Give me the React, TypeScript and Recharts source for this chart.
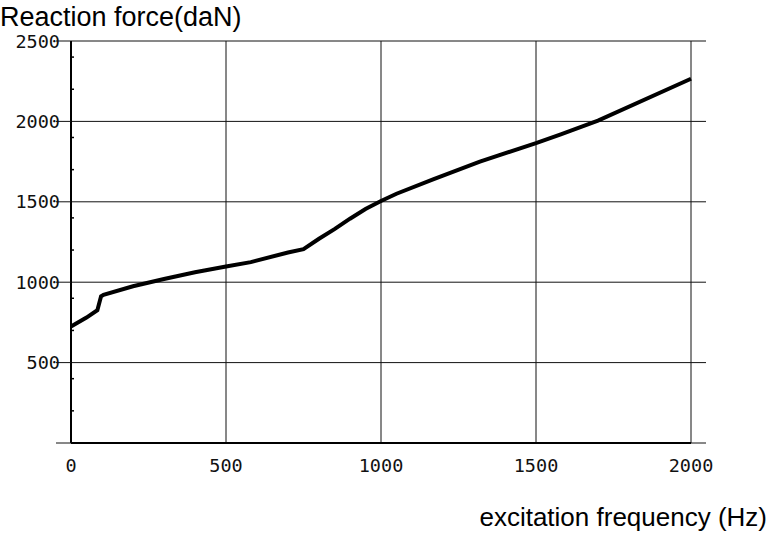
import React from 'react';
import { LineChart, Line, XAxis, YAxis, CartesianGrid } from 'recharts';

const frequencies = [0, 50, 85, 97, 105, 200, 300, 400, 500, 580, 700, 750, 800, 850, 900, 950, 1000, 1050, 1168, 1319, 1500, 1580, 1700, 2000];
const forces = [725, 780, 826, 912, 922, 975, 1020, 1062, 1098, 1125, 1185, 1205, 1270, 1330, 1395, 1455, 1505, 1550, 1640, 1750, 1865, 1920, 2005, 2265];
const xTicks = [0, 500, 1000, 1500, 2000];
const yTicks = [0, 500, 1000, 1500, 2000, 2500];
const yMinorTicks = [100, 200, 300, 400, 600, 700, 800, 900, 1100, 1200, 1300, 1400, 1600, 1700, 1800, 1900, 2100, 2200, 2300, 2400];
const yTitle = 'Reaction force(daN)';
const xTitle = 'excitation frequency (Hz)';

const data = frequencies.map((f, i) => ({ freq: f, force: forces[i] }));

const tickFont = { fontFamily: 'DejaVu Sans Mono', fontSize: 18.5, fill: '#111' };
const EmptyTick = () => <g />;

export default function App() {
  return (
    <div style={{ position: 'absolute', left: 0, top: 0, width: 773, height: 541, background: '#fff' }}>
      <LineChart width={773} height={541} data={data} margin={{ top: 41, right: 67, bottom: 58, left: 0 }}>
        <CartesianGrid stroke="#111" strokeWidth={1} />
        <XAxis
          dataKey="freq"
          type="number"
          domain={[0, 2000]}
          ticks={xTicks}
          height={40}
          tickLine={false}
          tickSize={14}
          tickMargin={2}
          axisLine={{ stroke: '#000', strokeWidth: 2 }}
          tick={tickFont}
        />
        <YAxis
          type="number"
          domain={[0, 2500]}
          ticks={yTicks}
          width={71}
          tickSize={15}
          tickMargin={-4}
          tickLine={{ stroke: '#111', strokeWidth: 1 }}
          axisLine={{ stroke: '#000', strokeWidth: 2 }}
          tick={tickFont}
          tickFormatter={(v: number) => (v === 0 ? '' : String(v))}
        />
        <YAxis
          yAxisId="right"
          orientation="right"
          type="number"
          domain={[0, 2500]}
          ticks={yTicks}
          width={15}
          tickSize={15}
          tickLine={{ stroke: '#111', strokeWidth: 1 }}
          axisLine={false}
          tick={EmptyTick}
        />
        <YAxis
          yAxisId="minor"
          orientation="left"
          mirror
          type="number"
          domain={[0, 2500]}
          ticks={yMinorTicks}
          tickSize={3}
          tickLine={{ stroke: '#000', strokeWidth: 1.5 }}
          axisLine={false}
          tick={EmptyTick}
        />
        <Line yAxisId="right" dataKey="force" stroke="none" strokeWidth={0} dot={false} isAnimationActive={false} />
        <Line yAxisId="minor" dataKey="force" stroke="none" strokeWidth={0} dot={false} isAnimationActive={false} />
        <Line
          dataKey="force"
          type="linear"
          stroke="#000"
          strokeWidth={4}
          dot={false}
          isAnimationActive={false}
        />
      </LineChart>
      <div style={{ position: 'absolute', left: 0, top: 2, fontFamily: 'Liberation Sans', fontSize: 27, lineHeight: '30px', color: '#000', whiteSpace: 'nowrap' }}>
        {yTitle}
      </div>
      <div style={{ position: 'absolute', right: 6, top: 502, fontFamily: 'Liberation Sans', fontSize: 26, lineHeight: '30px', color: '#000', whiteSpace: 'nowrap' }}>
        {xTitle}
      </div>
    </div>
  );
}
